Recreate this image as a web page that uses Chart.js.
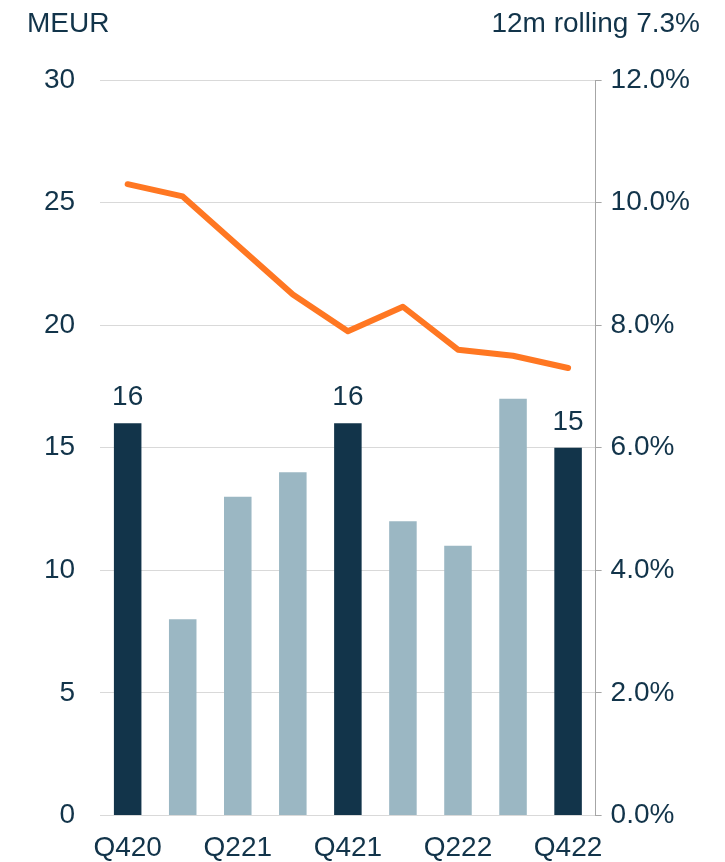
<!DOCTYPE html>
<html>
<head>
<meta charset="utf-8">
<script src="https://cdn.jsdelivr.net/npm/chart.js@4.4.1/dist/chart.umd.min.js"></script>
<style>
  html, body { margin: 0; padding: 0; background: #fff; }
  #wrap { position: relative; width: 725px; height: 862px; }
  .head { position: absolute; top: 9px; line-height: 1; font-family: "Liberation Sans", Arial, sans-serif; font-size: 28px; color: #12344a; }
</style>
</head>
<body>
<div id="wrap">
  <div class="head" style="left:27px">MEUR</div>
  <div class="head" style="right:25px">12m rolling 7.3%</div>
  <canvas id="chart" width="725" height="862"></canvas>
</div>
<script>
const quarters = ["Q420", "Q121", "Q221", "Q321", "Q421", "Q122", "Q222", "Q322", "Q422"];
const ebitMeur = [16, 8, 13, 14, 16, 12, 11, 17, 15];
const rollingMargin = [10.3, 10.1, 9.3, 8.5, 7.9, 8.3, 7.6, 7.5, 7.3];
const labelledBars = [0, 4, 8];

const dark = "#12344a";
const light = "#9bb7c3";
const orange = "#ff7722";
const textColor = "#12344a";

const barColors = quarters.map(q => q.startsWith("Q4") ? dark : light);

// write the value above the Q4 bars
const barLabels = {
  id: "barLabels",
  afterDatasetsDraw(chart) {
    const ctx = chart.ctx;
    const meta = chart.getDatasetMeta(1);
    ctx.save();
    ctx.font = "28px 'Liberation Sans', Arial, sans-serif";
    ctx.fillStyle = textColor;
    ctx.textAlign = "center";
    ctx.textBaseline = "alphabetic";
    labelledBars.forEach(i => {
      const el = meta.data[i];
      ctx.fillText(ebitMeur[i], el.x, el.y - 18);
    });
    ctx.restore();
  }
};

Chart.defaults.font.family = "'Liberation Sans', Arial, sans-serif";
Chart.defaults.color = textColor;

new Chart(document.getElementById("chart"), {
  data: {
    labels: quarters,
    datasets: [
      {
        type: "line",
        data: rollingMargin,
        yAxisID: "y1",
        borderColor: orange,
        borderWidth: 6,
        pointRadius: 0,
        tension: 0,
        borderCapStyle: "round",
        borderJoinStyle: "round"
      },
      {
        type: "bar",
        data: ebitMeur,
        yAxisID: "y",
        backgroundColor: barColors,
        categoryPercentage: 1,
        barPercentage: 0.5
      }
    ]
  },
  options: {
    responsive: false,
    animation: false,
    layout: { padding: { top: 80, left: 19, right: 26, bottom: -19 } },
    plugins: { legend: { display: false }, tooltip: { enabled: false } },
    scales: {
      x: {
        grid: { display: false, drawTicks: false },
        border: { display: false },
        ticks: {
          font: { size: 28 },
          autoSkip: false,
          maxRotation: 0,
          padding: 16,
          callback: (v, i) => i % 2 === 0 ? quarters[i] : ""
        }
      },
      y: {
        position: "left",
        min: 0,
        max: 30,
        ticks: { stepSize: 5, font: { size: 28 }, padding: 25 },
        grid: { color: "#d9d9d9", drawTicks: false },
        border: { display: false }
      },
      y1: {
        position: "right",
        min: 0,
        max: 12,
        ticks: {
          stepSize: 2,
          font: { size: 28 },
          padding: 9,
          callback: v => v.toFixed(1) + "%"
        },
        grid: { drawOnChartArea: false, color: "#a6a6a6", tickLength: 6 },
        border: { display: true, color: "#a6a6a6" }
      }
    }
  },
  plugins: [barLabels]
});
</script>
</body>
</html>
